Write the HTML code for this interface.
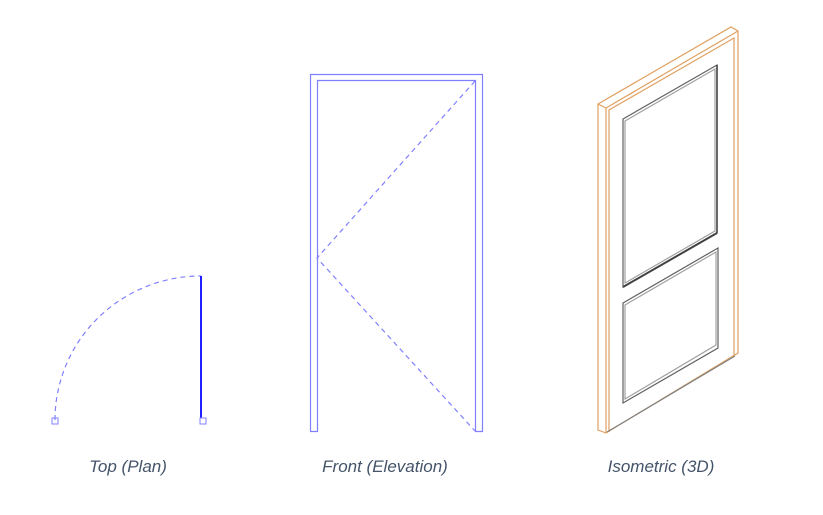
<!DOCTYPE html>
<html><head><meta charset="utf-8"><style>
html,body{margin:0;padding:0;background:#fff;width:823px;height:515px;overflow:hidden}
svg{display:block}
text{font-family:"Liberation Sans",sans-serif;font-style:italic;font-size:17px;fill:#44546a}
</style></head><body>
<svg width="823" height="515" viewBox="0 0 823 515">
<!-- Plan -->
<path d="M55,420 A146,144 0 0 1 201,276" fill="none" stroke="#8080ff" stroke-width="1.2" stroke-dasharray="5,4"/>
<line x1="201" y1="276" x2="201" y2="418" stroke="#2020ff" stroke-width="2"/>
<rect x="52" y="418" width="6" height="6" fill="none" stroke="#8080ff"/>
<rect x="200" y="418" width="6" height="6" fill="none" stroke="#8080ff"/>
<!-- Elevation -->
<path d="M310.5,431.5 V74.5 H482.5 V431.5 H475.5 V80.5 H317.5 V431.5 Z" fill="none" stroke="#8080ff" stroke-width="1.2"/>
<polyline points="475,81 317,258 475,431" fill="none" stroke="#8080ff" stroke-width="1.2" stroke-dasharray="5,4"/>
<!-- Isometric -->
<g fill="none" stroke-width="1.2">
<polygon points="598,104 731,27 738,31 738,353 606,433 598,430" stroke="#e0a060"/>
<line x1="606" y1="108" x2="738" y2="31" stroke="#e0a060"/>
<line x1="606" y1="108" x2="606" y2="433" stroke="#e0a060"/>
<line x1="598" y1="104" x2="606" y2="108" stroke="#e0a060"/>
<polyline points="609,432 609,110 734,38 734,356" stroke="#e0a060"/>
<line x1="607" y1="432" x2="735" y2="356" stroke="#808080"/>
<polygon points="623,119 717,65 717,233 623,287" stroke="#606060"/>
<polygon points="625,121 715,69 715,231 625,283" stroke="#a0a0a0"/>
<line x1="623" y1="287" x2="717" y2="233" stroke="#404040" stroke-width="2"/>
<line x1="717" y1="65" x2="717" y2="233" stroke="#404040" stroke-width="1.5"/>
<polygon points="623,303 718,248 718,348 623,403" stroke="#606060"/>
<polygon points="625,305 716,252 716,345 625,399" stroke="#a0a0a0"/>
</g>
<text x="128" y="472" text-anchor="middle">Top (Plan)</text>
<text x="385" y="472" text-anchor="middle">Front (Elevation)</text>
<text x="661" y="472" text-anchor="middle">Isometric (3D)</text>
</svg>
</body></html>
